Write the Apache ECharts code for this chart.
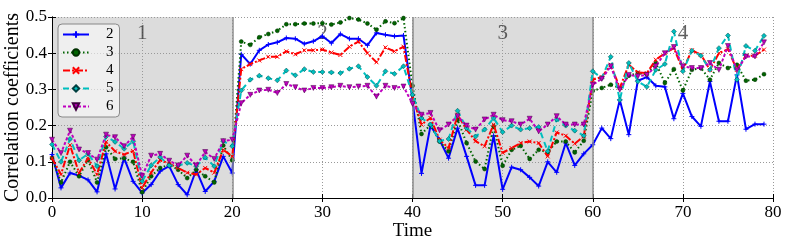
<!DOCTYPE html>
<html><head><meta charset="utf-8">
<script src="https://cdn.jsdelivr.net/npm/echarts@6/dist/echarts.min.js"></script>
<style>html,body{margin:0;padding:0;background:#fff}#c{width:789px;height:245px}</style>
</head><body><div id="c"></div>
<script>
var seriesNames = ['2','3','4','5','6'];
var s2 = [0.12,0.028,0.069,0.062,0.05,0.017,0.122,0.025,0.11,0.046,0.014,0.037,0.074,0.088,0.037,0.009,0.078,0.018,0.046,0.115,0.069,
0.397,0.37,0.408,0.424,0.43,0.442,0.44,0.426,0.433,0.447,0.428,0.453,0.44,0.44,0.422,0.456,0.451,0.447,0.449,
0.27,0.068,0.2,0.161,0.11,0.193,0.115,0.035,0.035,0.172,0.024,0.085,0.078,0.057,0.033,0.1,0.071,0.152,0.09,0.122,
0.147,0.193,0.164,0.271,0.175,0.324,0.334,0.31,0.307,0.219,0.289,0.225,0.198,0.322,0.212,0.212,0.34,0.19,0.204,0.204];
var s3 = [0.11,0.043,0.1,0.06,0.105,0.043,0.14,0.108,0.11,0.1,0.016,0.06,0.083,0.092,0.078,0.055,0.078,0.06,0.043,0.145,0.104,
0.432,0.423,0.444,0.453,0.462,0.48,0.48,0.482,0.482,0.483,0.479,0.485,0.497,0.493,0.482,0.465,0.488,0.483,0.497,
0.31,0.177,0.202,0.156,0.129,0.216,0.152,0.101,0.08,0.198,0.089,0.133,0.144,0.108,0.133,0.126,0.156,0.156,0.126,0.158,
0.296,0.304,0.313,0.304,0.338,0.345,0.342,0.373,0.318,0.356,0.297,0.354,0.359,0.327,0.373,0.359,0.368,0.324,0.327,0.342];
var s4 = [0.11,0.065,0.146,0.069,0.11,0.065,0.155,0.129,0.12,0.13,0.028,0.07,0.105,0.095,0.083,0.07,0.065,0.083,0.07,0.133,0.115,
0.356,0.37,0.38,0.39,0.39,0.405,0.397,0.408,0.408,0.41,0.402,0.395,0.418,0.432,0.4,0.375,0.416,0.405,0.418,
0.28,0.203,0.221,0.161,0.138,0.23,0.189,0.157,0.143,0.203,0.125,0.138,0.152,0.156,0.152,0.115,0.181,0.172,0.15,0.17,
0.327,0.334,0.368,0.304,0.368,0.347,0.345,0.382,0.4,0.414,0.354,0.408,0.396,0.354,0.4,0.411,0.354,0.393,0.393,0.41];
var s5 = [0.148,0.1,0.163,0.104,0.122,0.088,0.17,0.155,0.136,0.157,0.046,0.09,0.113,0.09,0.09,0.097,0.088,0.112,0.088,0.157,0.143,
0.297,0.327,0.338,0.331,0.325,0.352,0.339,0.356,0.348,0.348,0.347,0.345,0.357,0.364,0.334,0.31,0.35,0.343,0.364,
0.285,0.221,0.203,0.157,0.163,0.241,0.193,0.17,0.189,0.221,0.182,0.2,0.189,0.193,0.196,0.129,0.217,0.2,0.186,0.172,
0.35,0.331,0.39,0.271,0.373,0.322,0.307,0.354,0.37,0.46,0.35,0.407,0.393,0.354,0.414,0.449,0.327,0.42,0.407,0.448];
var s6 = [0.161,0.124,0.186,0.134,0.124,0.106,0.175,0.168,0.143,0.169,0.06,0.117,0.122,0.103,0.09,0.117,0.09,0.127,0.108,0.157,0.161,
0.262,0.285,0.297,0.299,0.29,0.315,0.306,0.297,0.304,0.304,0.306,0.31,0.306,0.308,0.31,0.28,0.31,0.304,0.308,
0.26,0.23,0.235,0.187,0.203,0.226,0.2,0.189,0.217,0.23,0.215,0.212,0.203,0.219,0.184,0.203,0.226,0.203,0.203,0.203,
0.313,0.329,0.364,0.299,0.34,0.336,0.34,0.364,0.4,0.417,0.364,0.359,0.359,0.373,0.354,0.42,0.353,0.391,0.391,0.43];
var shadedRanges = [[0,20],[40,60]];
var boundaries = [20,40,60];
var regionLabels = ['1','2','3','4'];
var regionX = [10,30,50,70];
var regionY = 0.455;

var FONT = 'Liberation Serif';
function pairs(arr){ return arr.map(function(v,i){ return [i, v]; }); }

var styles = [
  {color:'#0000ff', type:'solid', symbol:'path://M0,5H10M5,0V10', size:5, border:'#0000ff', bw:1},
  {color:'#006400', type:[1.5,2.5], symbol:'circle', size:4, border:'#003000', bw:0.5},
  {color:'#ff0000', type:[7,2,2,2], symbol:'path://M0,0L10,10M10,0L0,10', size:4, border:'#ff0000', bw:1},
  {color:'#00bfbf', type:[6,4], symbol:'diamond', size:5, border:'#004040', bw:0.5},
  {color:'#bf00bf', type:[3,2], symbol:'triangle', size:5, border:'#400040', bw:0.5, rotate:180}
];
var allData = [s2,s3,s4,s5,s6];

var series = [{
  name:'bg', type:'line', data:[], z:1, silent:true,
  markArea:{silent:true, itemStyle:{color:'#dcdcdc'},
    data: shadedRanges.map(function(r){ return [{xAxis:r[0]},{xAxis:r[1]}]; })},
  markLine:{silent:true, symbol:['none','none'], label:{show:false},
    lineStyle:{color:'#8c8c8c', type:'solid', width:1.5},
    data: boundaries.map(function(b){ return {xAxis:b}; })}
}];
allData.forEach(function(d, k){
  var st = styles[k];
  series.push({
    name: seriesNames[k], type:'line', data: pairs(d), z: 3+k,
    symbol: st.symbol, symbolSize: st.size, symbolRotate: st.rotate || 0,
    showAllSymbol: true,
    lineStyle:{color: st.color, width: 2, type: st.type},
    itemStyle:{color: st.color, borderColor: st.border, borderWidth: st.bw},
    emphasis:{disabled:true}, animation:false
  });
});
series.push({
  name:'regions', type:'scatter', z:2, symbolSize:0, silent:true,
  data: regionX.map(function(x,i){ return {value:[x, regionY], name: regionLabels[i]}; }),
  label:{show:true, position:'inside', formatter:function(p){ return p.name; },
    fontFamily: FONT, fontSize: 21, color:'#3a3a3a'}
});

var axisCommon = {
  axisLine:{show:true, lineStyle:{color:'#000', width:1}},
  axisTick:{show:true, inside:true, length:4, lineStyle:{color:'#000'}}
};
var option = {
  animation:false,
  backgroundColor:'#fff',
  grid:{left:52, right:16, top:17, bottom:47, show:false, containLabel:false, outerBoundsMode:'none'},
  legend:{
    data: seriesNames, orient:'vertical', left:58, top:24,
    itemWidth:26, itemHeight:8, itemGap:3,
    padding:[3,6,3,4],
    backgroundColor:'rgba(255,255,255,0.55)', borderColor:'#888', borderWidth:1, borderRadius:4,
    textStyle:{fontFamily:FONT, fontSize:15, color:'#000', padding:[0,0,0,12]}
  },
  xAxis:[{
    type:'value', min:0, max:80, interval:10, z:1.5,
    name:'Time', nameLocation:'middle', nameGap:24, nameMoveOverlap:false,
    nameTextStyle:{fontFamily:FONT, fontSize:19, color:'#000'},
    axisLabel:{fontFamily:FONT, fontSize:17, color:'#000', margin:6},
    splitLine:{show:true, lineStyle:{color:'#999', type:[1,2], width:1}},
    axisLine:axisCommon.axisLine, axisTick:axisCommon.axisTick
  },{
    type:'value', min:0, max:80, interval:10, position:'top', z:1.5,
    axisLabel:{show:false}, splitLine:{show:false},
    axisLine:axisCommon.axisLine, axisTick:axisCommon.axisTick
  }],
  yAxis:[{
    type:'value', min:0, max:0.5, interval:0.1, z:1.5,
    name:'Correlation coefficients', nameLocation:'middle', nameGap:29, nameRotate:90, nameMoveOverlap:false,
    nameTextStyle:{fontFamily:FONT, fontSize:20, color:'#000'},
    axisLabel:{fontFamily:FONT, fontSize:17, color:'#000', margin:5, formatter:function(v){ return v.toFixed(1); }},
    splitLine:{show:true, lineStyle:{color:'#999', type:[1,2], width:1}},
    axisLine:axisCommon.axisLine, axisTick:axisCommon.axisTick
  },{
    type:'value', min:0, max:0.5, interval:0.1, position:'right', z:1.5,
    axisLabel:{show:false}, splitLine:{show:false},
    axisLine:axisCommon.axisLine, axisTick:axisCommon.axisTick
  }],
  series: series
};
var chart = echarts.init(document.getElementById('c'), null, {renderer:'canvas'});
chart.setOption(option);
</script>
</body></html>
